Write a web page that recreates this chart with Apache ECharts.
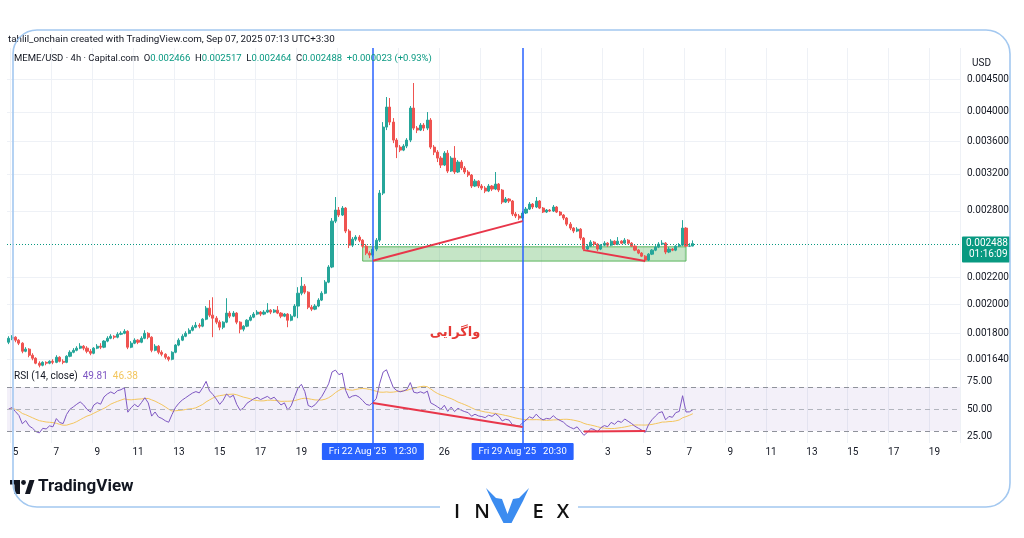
<!DOCTYPE html>
<html>
<head>
<meta charset="utf-8">
<script src="https://cdn.jsdelivr.net/npm/echarts@6/dist/echarts.min.js"></script>
<style>
  html, body { margin: 0; padding: 0; background: #ffffff; }
  #chart { width: 1024px; height: 538px; }
</style>
</head>
<body>
<div id="chart"></div>
<script>
// MEME/USD 4h candles, prices in millionths of a dollar (1e-6 USD)
const openP = [
  1743,1768,1775,1756,1737,1687,1700,1663,1645,1616,
  1604,1621,1616,1627,1621,1651,1627,1621,1657,1681,
  1693,1706,1718,1706,1687,1675,1706,1718,1712,1750,
  1768,1781,1775,1794,1800,1813,1712,1737,1756,1743,
  1768,1800,1775,1693,1718,1681,1669,1651,1639,1681,
  1725,1756,1781,1800,1820,1840,1853,1847,1894,1971,
  1922,1901,1874,1840,1874,1936,1915,1936,1874,1827,
  1847,1887,1908,1929,1943,1929,1943,1957,1943,1957,
  1936,1915,1929,1887,1915,1986,2080,2134,2088,1978,
  1964,1986,2029,2080,2165,2286,2698,2808,2758,2828,
  2603,2474,2528,2547,2519,2465,2404,2387,2439,2519,
  2985,3788,4072,3857,3614,3524,3486,3537,3614,4057,
  3774,3747,3815,3774,3885,3524,3461,3387,3303,3448,
  3232,3387,3221,3339,3268,3221,3186,3062,3117,3062,
  3040,3007,3062,3029,3084,3018,2890,2922,2901,2768,
  2748,2728,2778,2818,2869,2839,2901,2828,2788,2808,
  2798,2839,2788,2758,2728,2669,2631,2603,2621,2538,
  2439,2465,2501,2483,2439,2474,2492,2474,2510,2483,
  2510,2492,2519,2492,2465,2430,2404,2378,2344,2395,
  2430,2457,2483,2492,2413,2439,2430,2465,2474,2631,
  2465,2466
];
const closeP = [
  1768,1775,1756,1737,1687,1700,1663,1645,1616,1604,
  1621,1616,1627,1621,1651,1627,1621,1657,1681,1693,
  1706,1718,1706,1687,1675,1706,1718,1712,1750,1768,
  1781,1775,1794,1800,1813,1712,1737,1756,1743,1768,
  1800,1775,1693,1718,1681,1669,1651,1639,1681,1725,
  1756,1781,1800,1820,1840,1853,1847,1894,1971,1922,
  1901,1874,1840,1874,1936,1915,1936,1874,1827,1847,
  1887,1908,1929,1943,1929,1943,1957,1943,1957,1936,
  1915,1929,1887,1915,1986,2080,2134,2088,1978,1964,
  1986,2029,2080,2165,2286,2698,2808,2758,2828,2603,
  2474,2528,2547,2519,2465,2404,2387,2439,2519,2985,
  3788,4072,3857,3614,3524,3486,3537,3614,4057,3774,
  3747,3815,3774,3885,3524,3461,3387,3303,3448,3232,
  3387,3221,3339,3268,3221,3186,3062,3117,3062,3040,
  3007,3062,3029,3084,3018,2890,2922,2901,2768,2748,
  2728,2778,2818,2869,2839,2901,2828,2788,2808,2798,
  2839,2788,2758,2728,2669,2631,2603,2621,2538,2439,
  2465,2501,2483,2439,2474,2492,2474,2510,2483,2510,
  2492,2519,2492,2465,2430,2404,2378,2344,2395,2430,
  2457,2483,2492,2413,2439,2430,2465,2474,2631,2465,
  2466,2488
];
const highP = [
  1781,1788,1781,1762,1743,1712,1706,1675,1651,1627,
  1627,1627,1633,1639,1663,1657,1639,1663,1693,1706,
  1718,1737,1725,1718,1700,1712,1731,1737,1756,1781,
  1794,1788,1807,1813,1827,1820,1750,1768,1762,1781,
  1820,1807,1781,1731,1725,1693,1675,1657,1687,1731,
  1768,1794,1813,1833,1853,1874,1867,1901,1986,2029,
  2050,1915,1887,1880,2043,1950,1950,1943,1880,1853,
  1894,1922,1943,1957,1950,1957,2007,1964,1964,1986,
  1943,1936,1936,1929,2000,2126,2205,2150,2095,1993,
  2000,2043,2095,2181,2302,2728,2943,2839,2849,2839,
  2621,2547,2565,2565,2528,2483,2421,2457,2538,3018,
  3857,4222,4207,3913,3640,3550,3562,3640,4087,4441,
  3802,3843,3843,3999,3913,3550,3486,3411,3473,3486,
  3411,3537,3363,3363,3291,3244,3198,3140,3128,3084,
  3062,3084,3073,3221,3095,3029,2943,2932,2911,2788,
  2768,2798,2839,2890,2880,2943,2911,2839,2818,2818,
  2859,2849,2798,2768,2738,2689,2640,2640,2631,2547,
  2483,2519,2510,2492,2483,2510,2501,2528,2519,2547,
  2519,2538,2528,2501,2474,2439,2413,2387,2404,2439,
  2474,2501,2519,2501,2457,2448,2474,2492,2708,2640,
  2492,2517
];
const lowP = [
  1731,1756,1743,1725,1675,1681,1651,1633,1610,1592,
  1598,1604,1610,1610,1616,1621,1610,1616,1651,1675,
  1687,1700,1693,1675,1663,1669,1700,1700,1706,1743,
  1762,1762,1768,1788,1794,1700,1706,1731,1731,1737,
  1762,1762,1681,1687,1669,1657,1639,1627,1633,1675,
  1718,1750,1775,1794,1813,1833,1833,1840,1887,1908,
  1775,1860,1820,1827,1867,1901,1908,1860,1800,1813,
  1840,1880,1901,1922,1915,1922,1936,1929,1936,1929,
  1901,1908,1840,1880,1908,1901,2065,2073,1964,1950,
  1957,1978,2022,2073,2157,2277,2679,2738,2748,2584,
  2448,2457,2510,2501,2448,2387,2361,2370,2421,2501,
  2964,3747,3815,3575,3387,3461,3473,3511,3588,3747,
  3707,3734,3734,3747,3499,3424,3339,3268,3291,3209,
  3221,3198,3209,3244,3198,3163,3040,3051,3040,3018,
  2985,2996,3007,3018,2996,2869,2880,2880,2748,2728,
  2708,2698,2768,2808,2818,2828,2818,2778,2778,2788,
  2788,2778,2748,2708,2650,2612,2584,2593,2519,2421,
  2430,2457,2465,2421,2430,2465,2457,2465,2474,2474,
  2483,2483,2483,2457,2421,2395,2370,2327,2336,2387,
  2421,2448,2474,2395,2404,2421,2421,2457,2465,2457,
  2457,2464
];

// Price scale (log) labels and visible range
const priceTicks = [0.0045, 0.004, 0.0036, 0.0032, 0.0028, 0.0022, 0.002, 0.0018, 0.00164];
const priceRange = [0.0015882, 0.005039];
const lastPrice = 0.002488;
const rsiTicks = [75, 50, 25];
const rsiLevels = [70, 50, 30];

// Time scale: date labels and grid days
const augLabelDays = [5, 7, 9, 11, 13, 15, 17, 19, 26];
const sepLabelDays = [3, 5, 7, 9, 11, 13, 15, 17, 19];
const augGridDays = [5, 7, 9, 11, 13, 15, 17, 19, 21, 24, 26, 28, 31];
const sepGridDays = [3, 5, 7, 9, 11, 13, 15, 17, 19];

// Drawings
const markerBars = [107, 151];
const markerTexts = ["Fri 22 Aug '25   12:30", "Fri 29 Aug '25   20:30"];
const supportZone = { fromBar: 104, toBar: 199, top: 0.002459, bottom: 0.002336 };
const priceTrendLines = [
  [[107, 0.002338], [151, 0.002698]],
  [[169, 0.002430], [187, 0.002336]]
];
const rsiTrendLines = [
  [[107, 55.5], [151, 33.6]],
  [[169, 29.6], [187, 30.0]]
];

const SLOT_COUNT = 280;
const t0 = Date.UTC(2025, 7, 4, 16, 30);
const categories = [];
for (let i = 0; i < SLOT_COUNT; i++) {
  categories.push(new Date(t0 + i * 4 * 3600e3).toISOString().slice(0, 16).replace('T', ' '));
}

function isDay(v, aug, sep) {
  if (v.slice(11) !== '00:30') return false;
  const m = v.slice(5, 7), d = parseInt(v.slice(8, 10), 10);
  return (m === '08' && aug.includes(d)) || (m === '09' && sep.includes(d));
}
const labelInterval = (idx, v) => isDay(v, augLabelDays, sepLabelDays);
const gridInterval = (idx, v) => isDay(categories[idx + 1] || '', augGridDays, sepGridDays);

const ln = Math.log;
const M = 1e-6;
const candleData = openP.map((o, i) => [ln(o * M), ln(closeP[i] * M), ln(lowP[i] * M), ln(highP[i] * M)]);

function wilderRsi(closes, period) {
  const diffs = [];
  for (let i = 1; i < closes.length; i++) diffs.push(closes[i] - closes[i - 1]);
  const seed = diffs.slice(0, period).reduce((s, d) => s + Math.abs(d), 0) / period / 2;
  let g = seed, l = seed;
  const out = [50];
  diffs.forEach(d => {
    g = (g * (period - 1) + Math.max(d, 0)) / period;
    l = (l * (period - 1) + Math.max(-d, 0)) / period;
    out.push(100 * g / (g + l));
  });
  return out;
}
function sma(vals, period) {
  return vals.map((v, i) => {
    const w = vals.slice(Math.max(0, i - period + 1), i + 1);
    return w.reduce((s, x) => s + x, 0) / w.length;
  });
}
const rsi = wilderRsi(closeP, 14);
const rsiMa = sma(rsi, 14);

const UP = '#26a69a', DOWN = '#ef5350', BLUE = '#2962ff', RED = '#e8364a';
const GRID_COLOR = '#eef1f6';
const FONT = 'Roboto, "Liberation Sans", sans-serif';

const priceTickLn = priceTicks.map(v => ln(v));

const chart = echarts.init(document.getElementById('chart'), null, { renderer: 'canvas' });

const option = {
  animation: false,
  backgroundColor: '#ffffff',
  textStyle: { fontFamily: FONT },
  grid: [
    { left: 7, right: 64, top: 48, height: 320 },
    { left: 7, right: 64, top: 368, height: 75 }
  ],
  xAxis: [
    {
      type: 'category', gridIndex: 0, data: categories, boundaryGap: true,
      axisLine: { show: false }, axisTick: { show: false }, axisLabel: { show: false },
      splitLine: { show: true, interval: gridInterval, lineStyle: { color: GRID_COLOR } }
    },
    {
      type: 'category', gridIndex: 1, data: categories, boundaryGap: true,
      axisLine: { show: false }, axisTick: { show: false },
      axisLabel: {
        show: true, interval: labelInterval, margin: 4, color: '#131722', fontSize: 10,
        formatter: v => String(parseInt(v.slice(8, 10), 10))
      },
      splitLine: { show: true, interval: gridInterval, lineStyle: { color: GRID_COLOR } }
    }
  ],
  yAxis: [
    {
      type: 'value', gridIndex: 0, position: 'right',
      min: ln(priceRange[0]), max: ln(priceRange[1]),
      axisLine: { show: false },
      axisTick: { show: false, customValues: priceTickLn },
      axisLabel: {
        customValues: priceTickLn, color: '#131722', fontSize: 10, margin: 7,
        formatter: v => Math.exp(v).toFixed(6)
      },
      splitLine: { show: true, lineStyle: { color: GRID_COLOR } }
    },
    {
      type: 'value', gridIndex: 1, position: 'right', min: 19.1, max: 87.3,
      axisLine: { show: false },
      axisTick: { show: false, customValues: rsiTicks },
      axisLabel: { customValues: rsiTicks, color: '#131722', fontSize: 10, margin: 7, formatter: v => v.toFixed(2) },
      splitLine: { show: false }
    }
  ],
  series: [
    {
      name: 'MEME/USD', type: 'candlestick', xAxisIndex: 0, yAxisIndex: 0,
      data: candleData, barWidth: 2.6,
      itemStyle: { color: UP, color0: DOWN, borderColor: UP, borderColor0: DOWN, borderWidth: 1 },
      markArea: {
        silent: true,
        data: [[
          { coord: [categories[supportZone.fromBar], ln(supportZone.top)],
            itemStyle: { color: 'rgba(102,187,106,0.38)', borderColor: 'rgba(76,175,80,0.9)', borderWidth: 1 } },
          { coord: [categories[supportZone.toBar], ln(supportZone.bottom)] }
        ]]
      },
      markLine: {
        silent: true, symbol: ['none', 'none'], label: { show: false },
        data: [
          { yAxis: ln(lastPrice), lineStyle: { color: '#089981', type: [1, 2], width: 1 } },
          ...markerBars.map(b => ({ xAxis: categories[b], lineStyle: { color: BLUE, type: 'solid', width: 1.5 } })),
          ...priceTrendLines.map(seg => [
            { coord: [categories[seg[0][0]], ln(seg[0][1])], lineStyle: { color: RED, type: 'solid', width: 2 } },
            { coord: [categories[seg[1][0]], ln(seg[1][1])] }
          ])
        ]
      }
    },
    {
      name: 'RSI', type: 'line', xAxisIndex: 1, yAxisIndex: 1, data: rsi,
      showSymbol: false, lineStyle: { color: '#7e57c2', width: 1 },
      markArea: {
        silent: true,
        data: [[{ yAxis: 30, itemStyle: { color: 'rgba(126,87,194,0.09)' } }, { yAxis: 70 }]]
      },
      markLine: {
        silent: true, symbol: ['none', 'none'], label: { show: false },
        data: [
          ...rsiLevels.map(v => ({ yAxis: v, lineStyle: { color: v === 50 ? '#b2b5be' : '#8f929b', type: [5, 4], width: 1 } })),
          ...markerBars.map(b => ({ xAxis: categories[b], lineStyle: { color: BLUE, type: 'solid', width: 1.5 } })),
          ...rsiTrendLines.map(seg => [
            { coord: [categories[seg[0][0]], seg[0][1]], lineStyle: { color: RED, type: 'solid', width: 2 } },
            { coord: [categories[seg[1][0]], seg[1][1]] }
          ])
        ]
      }
    },
    {
      name: 'RSI-based MA', type: 'line', xAxisIndex: 1, yAxisIndex: 1, data: rsiMa,
      showSymbol: false, lineStyle: { color: '#f3c65e', width: 1 }, z: 1
    }
  ]
};
chart.setOption(option);

// Overlay text, labels and branding
const g = [];
g.push({
  type: 'text', x: 8, y: 35, z: 50,
  style: { text: 'tahlil_onchain created with TradingView.com, Sep 07, 2025 07:13 UTC+3:30', fill: '#131722', font: '9.8px ' + FONT }
});
g.push({
  type: 'text', x: 14, y: 54, z: 50,
  style: {
    text: '{k|MEME/USD · 4h · Capital.com}  {k|O}{v|0.002466}  {k|H}{v|0.002517}  {k|L}{v|0.002464}  {k|C}{v|0.002488}  {v|+0.000023 (+0.93%)}',
    font: '9.5px ' + FONT,
    rich: { k: { fill: '#131722', font: '9.5px ' + FONT }, v: { fill: '#089981', font: '9.5px ' + FONT } }
  }
});
g.push({
  type: 'text', x: 14, y: 371, z: 50,
  style: {
    text: '{k|RSI (14, close)}  {p|49.81}  {y|46.38}',
    font: '10px ' + FONT,
    rich: { k: { fill: '#131722', font: '10px ' + FONT }, p: { fill: '#7e57c2', font: '10px ' + FONT }, y: { fill: '#f3c65e', font: '10px ' + FONT } }
  }
});
g.push({ type: 'rect', shape: { x: 963, y: 52, width: 44, height: 20 }, style: { fill: '#ffffff' }, z: 49 });
g.push({ type: 'text', x: 972, y: 58, z: 50, style: { text: 'USD', fill: '#131722', font: '10px ' + FONT } });

// Last price tag
const lastY = chart.convertToPixel({ yAxisIndex: 0 }, ln(lastPrice));
g.push({ type: 'rect', z: 50, shape: { x: 962, y: lastY - 7, width: 48, height: 26, r: 1 }, style: { fill: '#089981' } });
g.push({ type: 'text', z: 51, x: 966, y: lastY - 5, style: { text: lastPrice.toFixed(6), fill: '#ffffff', font: '10px ' + FONT } });
g.push({ type: 'text', z: 51, x: 969, y: lastY + 6, style: { text: '01:16:09', fill: '#ffffff', font: '10px ' + FONT } });

// Highlighted time labels under the vertical markers
markerBars.forEach((b, k) => {
  const x = chart.convertToPixel({ xAxisIndex: 1 }, categories[b]);
  g.push({ type: 'rect', z: 50, shape: { x: x - 51, y: 443, width: 102, height: 17, r: 1 }, style: { fill: BLUE } });
  g.push({ type: 'text', z: 51, x: x, y: 451.5, style: { text: markerTexts[k], fill: '#ffffff', font: '9.5px ' + FONT, align: 'center', verticalAlign: 'middle' } });
});

// Annotation
g.push({
  type: 'text', z: 50, x: 455, y: 333,
  style: { text: 'واگرایی', fill: '#e53935', font: 'bold 13px "DejaVu Sans", sans-serif', align: 'center', verticalAlign: 'middle' }
});

// TradingView logo
g.push({ type: 'rect', z: 50, shape: { x: 10, y: 480, width: 10, height: 4.5 }, style: { fill: '#131722' } });
g.push({ type: 'rect', z: 50, shape: { x: 14.5, y: 480, width: 5.5, height: 14 }, style: { fill: '#131722' } });
g.push({ type: 'circle', z: 50, shape: { cx: 23.5, cy: 482.5, r: 2.4 }, style: { fill: '#131722' } });
g.push({ type: 'polygon', z: 50, shape: { points: [[25, 494], [29.5, 480], [34.5, 480], [30, 494]] }, style: { fill: '#131722' } });
g.push({ type: 'text', z: 50, x: 38, y: 478, style: { text: 'TradingView', fill: '#131722', font: 'bold 17px ' + FONT } });

// Frame with a gap under the logo
g.push({
  type: 'rect', z: 60, silent: true,
  shape: { x: 13, y: 30, width: 997, height: 477, r: 24 },
  style: { fill: null, stroke: '#a3c8f0', lineWidth: 1.6 }
});
g.push({ type: 'rect', z: 61, silent: true, shape: { x: 440, y: 503, width: 138, height: 10 }, style: { fill: '#ffffff' } });

// INVEX logo
[['I', 457], ['N', 482], ['E', 538], ['X', 563]].forEach(([ch, x]) => {
  g.push({ type: 'text', z: 62, x: x, y: 512, style: { text: ch, fill: '#111111', font: '600 20px "Open Sans", sans-serif', align: 'center', verticalAlign: 'middle' } });
});
g.push({
  type: 'polygon', z: 62,
  shape: { points: [[486, 488], [496, 498], [502, 499], [507.5, 514], [513, 499], [519, 498], [529, 488], [523, 501], [511.5, 523], [503.5, 523], [492, 501]] },
  style: { fill: '#3b8cf0' }
});

chart.setOption({ graphic: g });
</script>
</body>
</html>
